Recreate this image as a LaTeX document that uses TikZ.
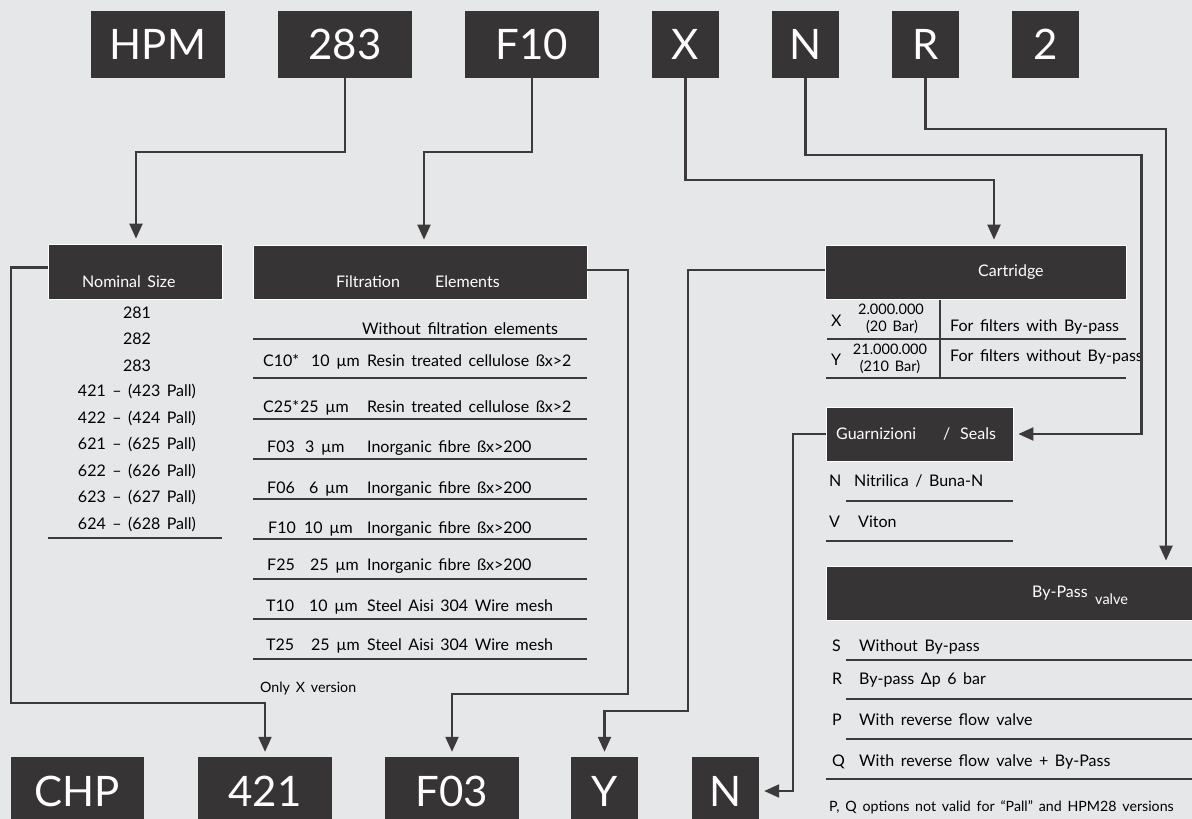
\documentclass[tikz,border=0pt]{standalone}
\usepackage{fontspec}
\setmainfont[WordSpace={1.6}]{Lato}
\usetikzlibrary{arrows.meta,calc}
\definecolor{bg}{HTML}{E6E7E8}
\definecolor{dk}{HTML}{373435}
\definecolor{ln}{HTML}{3C3A3B}
\begin{document}
\begin{tikzpicture}[x=1pt,y=-1pt,font=\fontsize{16}{19}\selectfont,
  codebox/.style={rectangle,fill=dk,text=white,inner sep=0pt,font=\fontsize{42}{48}\selectfont},
  hdr/.style={rectangle,fill=dk,draw=white,line width=0.8pt,inner sep=0pt},
  arr/.style={draw=ln,line width=2.2pt,-{Triangle[length=15pt,width=13pt]},shorten >=5pt},
  rule/.style={draw=ln,line width=1.3pt},
  tx/.style={anchor=base west,inner sep=0pt,text=black},
  tc/.style={anchor=base,inner sep=0pt,text=black},
  wt/.style={anchor=base west,inner sep=0pt,text=white},
  small/.style={font=\fontsize{14.5}{16}\selectfont},
  tiny/.style={font=\fontsize{14.2}{16}\selectfont}]
\fill[bg] (0,0) rectangle (1192,819);
\useasboundingbox (0,0) rectangle (1192,819);

% top code boxes
\node[codebox,minimum width=134pt,minimum height=67pt] (tHPM) at (158,44.5) {HPM};
\node[codebox,minimum width=134pt,minimum height=67pt] (t283) at (345,44.5) {283};
\node[codebox,minimum width=134pt,minimum height=67pt] (tF10) at (532,44.5) {F10};
\node[codebox,minimum width=67pt,minimum height=67pt] (tX) at (685.5,44.5) {X};
\node[codebox,minimum width=67pt,minimum height=67pt] (tN) at (805.5,44.5) {N};
\node[codebox,minimum width=67pt,minimum height=67pt] (tR) at (925.5,44.5) {R};
\node[codebox,minimum width=67pt,minimum height=67pt] (t2) at (1045.5,44.5) {2};

% bottom code boxes
\node[codebox,minimum width=133pt,minimum height=68pt] (bCHP) at (77.5,791) {CHP};
\node[codebox,minimum width=134pt,minimum height=68pt] (b421) at (265,791) {421};
\node[codebox,minimum width=134pt,minimum height=68pt] (bF03) at (452,791) {F03};
\node[codebox,minimum width=67pt,minimum height=68pt] (bY) at (604.5,791) {Y};
\node[codebox,minimum width=67pt,minimum height=68pt] (bN) at (725.5,791) {N};

% section headers
\node[hdr,minimum width=174pt,minimum height=55pt] (hNom) at (135,271.5) {};
\node[hdr,minimum width=334pt,minimum height=54pt] (hFilt) at (420,272) {};
\node[hdr,minimum width=301pt,minimum height=54pt] (hCart) at (975.5,272) {};
\node[hdr,minimum width=187pt,minimum height=54pt] (hSeal) at (919.5,434) {};
\node[hdr,minimum width=376pt,minimum height=54pt] (hByp) at (1014,593) {};

\node[wt] (lNom) at (82,287) {Nominal Size};
\node[wt] (lFilt1) at (336,287) {Filtration};
\node[wt] (lFilt2) at (435,287) {Elements};
\node[wt] (lCart) at (978,276) {Cartridge};
\node[wt] (lSeal1) at (836,439) {Guarnizioni};
\node[wt] (lSeal2) at (943,439) {/};
\node[wt] (lSeal3) at (960,439) {Seals};
\node[wt] (lByp1) at (1032,597) {By-Pass};
\node[wt,small] (lByp2) at (1095,604) {valve};

% nominal size list
\foreach \t/\y in {281/313,282/339,283/366,{421 – (423 Pall)}/391,{422 – (424 Pall)}/418,{621 – (625 Pall)}/444,{622 – (626 Pall)}/471,{623 – (627 Pall)}/497,{624 – (628 Pall)}/524}
  \node[tc] at (137,\y+5.5) {\t};
\draw[rule] (48,538) -- (222,538);

% filtration list
\node[tx] at (362,334) {Without filtration elements};
\foreach \c/\cx/\s/\sx/\d/\y in {
  C10*/263/10 µm/311/Resin treated cellulose ßx>2/366,
  C25*/263/25 µm/300/Resin treated cellulose ßx>2/412,
  F03/267/3 µm/305/Inorganic fibre ßx>200/452,
  F06/267/6 µm/309/Inorganic fibre ßx>200/493,
  F10/268/10 µm/304/Inorganic fibre ßx>200/533,
  F25/267/25 µm/310/Inorganic fibre ßx>200/570,
  T10/266/10 µm/309/Steel Aisi 304 Wire mesh/611,
  T25/266/25 µm/311/Steel Aisi 304 Wire mesh/650}
{ \node[tx] at (\cx,\y) {\c};
  \node[tx] at (\sx,\y) {\s};
  \node[tx] at (367,\y) {\d}; }
\foreach \y in {339,378,419,459,499,539,579,619,659}
  \draw[rule] (253,\y) -- (587,\y);
\node[tx,tiny] at (260,692) {Only X version};

% cartridge table
\node[tx] at (831,326) {X};
\node[tc,small] at (891,314) {2.000.000};
\node[tc,small] at (892,331) {(20 Bar)};
\node[tx] at (950,331) {For filters with By-pass};
\node[tx] at (831,365) {Y};
\node[tc,small] at (890,354) {21.000.000};
\node[tc,small] at (890,371) {(210 Bar)};
\node[tx] at (950,361) {For filters without By-pass};
\draw[rule] (940,300) -- (940,378);
\draw[rule] (827,339) -- (1126,339);
\draw[rule] (826,378) -- (1126,378);

% seals table
\node[tx] at (829,486) {N};
\node[tx] at (854,486) {Nitrilica / Buna-N};
\draw[rule] (846,501) -- (1013,501);
\node[tx] at (829,527) {V};
\node[tx] at (858,527) {Viton};
\draw[rule] (826,541) -- (1013,541);

% by-pass table
\node[tx] at (832,651) {S};
\node[tx] at (859,651) {Without By-pass};
\draw[rule] (846,660) -- (1192,660);
\node[tx] at (832,684) {R};
\node[tx] at (859,684) {By-pass Δp 6 bar};
\draw[rule] (846,699) -- (1192,699);
\node[tx] at (832,725) {P};
\node[tx] at (859,725) {With reverse flow valve};
\draw[rule] (846,739) -- (1192,739);
\node[tx] at (832,766) {Q};
\node[tx] at (859,766) {With reverse flow valve + By-Pass};
\draw[rule] (826,779) -- (1192,779);
\node[tx,tiny] at (829,811) {P, Q options not valid for “Pall” and HPM28 versions};

% connectors from top codes
\draw[arr] (t283.south) -- ++(0,74) -| ([xshift=1pt]hNom.north);
\draw[arr] (tF10.south) -- ++(0,74) -| ([xshift=4pt]hFilt.north);
\draw[arr] (tX.south) -- ++(0,102) -| ([xshift=18.5pt]hCart.north);
\coordinate (nBend) at ($(hSeal.east)+(128,0)$);
\draw[arr] (tN.south) -- ++(0,77) -| (nBend) -- (hSeal.east);
\draw[arr] (tR.south) -- ++(0,51) -| ([xshift=152pt]hByp.north);

% connectors to bottom codes
\coordinate (c421) at (11,703);
\coordinate (cF03) at (628,694);
\coordinate (cY) at (688,711);
\draw[arr] ($(hNom.west)+(0,-4)$) -| (c421) -| (b421.north);
\draw[arr] ($(hFilt.east)+(0,-2)$) -| (cF03) -| (bF03.north);
\draw[arr] ($(hCart.west)+(0,-2)$) -| (cY) -| (bY.north);
\draw[arr] (hSeal.west) -- ++(-33,0) |- (bN.east);
\end{tikzpicture}
\end{document}
